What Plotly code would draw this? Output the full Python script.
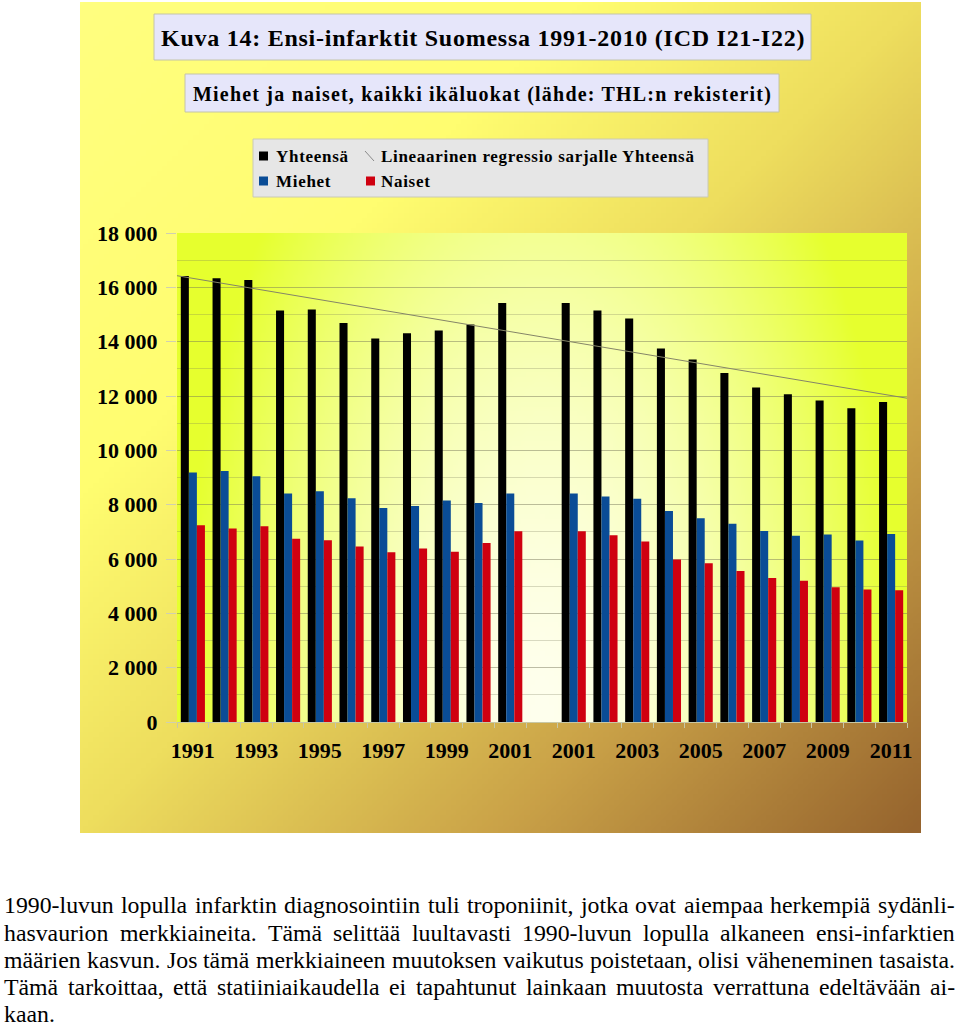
import zlib, struct, base64
import numpy as np
import plotly.graph_objects as go

# ---------------- data ----------------
categories = ["1991", "1992", "1993", "1994", "1995", "1996", "1997", "1998", "1999", "2000", "2001",
              "",
              "2001", "2002", "2003", "2004", "2005", "2006", "2007", "2008", "2009", "2010", "2011"]
yhteensa = [16420, 16330, 16270, 15150, 15180, 14690, 14120, 14310, 14410, 14630, 15420,
            None,
            15420, 15150, 14850, 13750, 13340, 12850, 12310, 12060, 11830, 11550, 11780]
miehet = [9180, 9240, 9050, 8410, 8490, 8240, 7880, 7950, 8150, 8060, 8410,
          None,
          8410, 8300, 8220, 7770, 7500, 7300, 7030, 6860, 6900, 6680, 6920]
naiset = [7240, 7120, 7210, 6750, 6690, 6460, 6250, 6390, 6270, 6590, 7020,
          None,
          7020, 6870, 6640, 5980, 5840, 5560, 5300, 5200, 4960, 4880, 4850]
y_ticks = [0, 2000, 4000, 6000, 8000, 10000, 12000, 14000, 16000, 18000]
y_ticktext = ["0", "2 000", "4 000", "6 000", "8 000", "10 000", "12 000", "14 000", "16 000", "18 000"]

title1 = "Kuva 14: Ensi-infarktit Suomessa 1991-2010 (ICD I21-I22)"
title2 = "Miehet ja naiset, kaikki ikäluokat (lähde: THL:n rekisterit)"
legend_names = ["Yhteensä", "Lineaarinen regressio sarjalle Yhteensä", "Miehet", "Naiset"]
paragraph_lines = [
    "1990-luvun lopulla infarktin diagnosointiin tuli troponiinit, jotka ovat aiempaa herkempiä sydänli-",
    "hasvaurion merkkiaineita. Tämä selittää luultavasti 1990-luvun lopulla alkaneen ensi-infarktien",
    "määrien kasvun. Jos tämä merkkiaineen muutoksen vaikutus poistetaan, olisi väheneminen tasaista.",
    "Tämä tarkoittaa, että statiiniaikaudella ei tapahtunut lainkaan muutosta verrattuna edeltävään ai-",
    "kaan.",
]

# ---------------- geometry helpers ----------------
W, H = 960, 1026
ML, MR, MT, MB = 177, 53, 233, 304
PW, PH = W - ML - MR, H - MT - MB


def px_x(px):
    return (px - ML) / PW


def px_y(py):
    return (H - MB - py) / PH


# ---------------- gradient images ----------------
def png_uri(w, h, fn):
    raw = bytearray()
    for j in range(h):
        raw.append(0)
        for i in range(w):
            r, g, b = fn(i / (w - 1), j / (h - 1))
            raw += bytes((int(max(0, min(255, r))), int(max(0, min(255, g))), int(max(0, min(255, b)))))

    def chunk(t, d):
        c = struct.pack('>I', len(d)) + t + d
        return c + struct.pack('>I', zlib.crc32(t + d) & 0xffffffff)

    png = (b'\x89PNG\r\n\x1a\n' + chunk(b'IHDR', struct.pack('>IIBBBBB', w, h, 8, 2, 0, 0, 0))
           + chunk(b'IDAT', zlib.compress(bytes(raw), 9)) + chunk(b'IEND', b''))
    return 'data:image/png;base64,' + base64.b64encode(png).decode()


def interp_stops(t, stops):
    for k in range(len(stops) - 1):
        t0, c0 = stops[k]
        t1, c1 = stops[k + 1]
        if t <= t1:
            f = (t - t0) / (t1 - t0) if t1 > t0 else 0
            return tuple(c0[m] + (c1[m] - c0[m]) * f for m in range(3))
    return stops[-1][1]


outer_stops = [(0.0, (255, 255, 128)), (0.3, (255, 253, 112)), (0.5, (238, 222, 94)),
               (0.75, (202, 162, 72)), (1.0, (150, 100, 46))]


def outer_fn(u, v):
    return interp_stops((u + v) / 2.0, outer_stops)


def plot_fn(u, v):
    d = min(1.0, ((u - 0.5) / 0.5) ** 2 + ((1 - v) / 1.6) ** 2) ** 0.5
    f = d ** 1.6
    c0 = (255, 255, 238)
    c1 = (230, 255, 46)
    return tuple(c0[m] + (c1[m] - c0[m]) * f for m in range(3))


outer_img = png_uri(160, 160, outer_fn)
plot_img = png_uri(160, 100, plot_fn)

# ---------------- traces ----------------
x_pos = list(range(len(categories)))
fig = go.Figure()
fig.add_trace(go.Bar(x=x_pos, y=yhteensa, name=legend_names[0], marker=dict(color="#000000", line=dict(width=0))))
fig.add_trace(go.Bar(x=x_pos, y=miehet, name=legend_names[2], marker=dict(color="#0a4c96", line=dict(width=0))))
fig.add_trace(go.Bar(x=x_pos, y=naiset, name=legend_names[3], marker=dict(color="#cf0010", line=dict(width=0))))

xs = [i for i, v in enumerate(yhteensa) if v is not None]
ys = [v for v in yhteensa if v is not None]
slope, icpt = np.polyfit(xs, ys, 1)
reg_x = [-0.5, len(categories) - 0.5]
reg_y = [icpt + slope * x for x in reg_x]
fig.add_trace(go.Scatter(x=reg_x, y=reg_y, mode="lines", name=legend_names[1],
                         line=dict(color="#858568", width=1), cliponaxis=False))

# ---------------- shapes / annotations ----------------
FONT = "Liberation Serif, Times New Roman, Tinos, DejaVu Serif, serif"
shapes = []
annotations = []

# title boxes
shapes.append(dict(type="rect", xref="paper", yref="paper", x0=px_x(154), x1=px_x(811), y0=px_y(60), y1=px_y(14),
                   fillcolor="#e6e6fa", line=dict(color="#c4c4a8", width=1), layer="above"))
annotations.append(dict(xref="paper", yref="paper", x=px_x(482.5), y=px_y(38), xanchor="center", yanchor="middle",
                        text='<span style="letter-spacing:0.74px">' + title1 + '</span>', showarrow=False,
                        font=dict(family=FONT, size=24, color="#000000", weight="bold"), borderpad=0))
shapes.append(dict(type="rect", xref="paper", yref="paper", x0=px_x(185), x1=px_x(779), y0=px_y(112), y1=px_y(74),
                   fillcolor="#e6e6fa", line=dict(color="#c4c4a8", width=1), layer="above"))
annotations.append(dict(xref="paper", yref="paper", x=px_x(482), y=px_y(94), xanchor="center", yanchor="middle",
                        text='<span style="letter-spacing:1.2px">' + title2 + '</span>', showarrow=False,
                        font=dict(family=FONT, size=20, color="#000000", weight="bold"), borderpad=0))

# legend box
shapes.append(dict(type="rect", xref="paper", yref="paper", x0=px_x(253), x1=px_x(708), y0=px_y(197), y1=px_y(139),
                   fillcolor="#e6e6e6", line=dict(color="#cacab4", width=1), layer="above"))
leg_rows = [156, 181]
leg_items = [
    (legend_names[0], "#000000", 259, 276, leg_rows[0], "sq"),
    (legend_names[1], "#8a8a8a", 365, 381, leg_rows[0], "ln"),
    (legend_names[2], "#0a4c96", 259, 276, leg_rows[1], "sq"),
    (legend_names[3], "#cf0010", 366, 381, leg_rows[1], "sq"),
]
for name, col, sx, tx, ry, kind in leg_items:
    if kind == "sq":
        shapes.append(dict(type="rect", xref="paper", yref="paper", x0=px_x(sx), x1=px_x(sx + 9),
                           y0=px_y(ry + 4.5), y1=px_y(ry - 4.5), fillcolor=col, line=dict(width=0), layer="above"))
    else:
        shapes.append(dict(type="line", xref="paper", yref="paper", x0=px_x(sx), x1=px_x(sx + 9),
                           y0=px_y(ry - 5), y1=px_y(ry + 5), line=dict(color=col, width=1), layer="above"))
    annotations.append(dict(xref="paper", yref="paper", x=px_x(tx), y=px_y(ry), xanchor="left", yanchor="middle",
                            text='<span style="letter-spacing:0.7px">' + name + '</span>', showarrow=False,
                            font=dict(family=FONT, size=17, color="#000000", weight="bold"),
                            borderpad=0, borderwidth=0))

# paragraph (justified, Times metrics)
TR = {'a': 444, 'b': 500, 'c': 444, 'd': 500, 'e': 444, 'f': 333, 'g': 500, 'h': 500, 'i': 278, 'j': 278,
      'k': 500, 'l': 278, 'm': 778, 'n': 500, 'o': 500, 'p': 500, 'q': 500, 'r': 333, 's': 389, 't': 278,
      'u': 500, 'v': 500, 'w': 722, 'x': 500, 'y': 500, 'z': 444, 'ä': 444, 'ö': 500, 'T': 611, 'J': 389,
      '-': 333, ',': 250, '.': 250, ' ': 250}
for dgt in "0123456789":
    TR[dgt] = 500
PFS = 23.8
LEFT, RIGHT = 4, 955
line_centers = [905, 932.5, 959.5, 987, 1014]
for li, line in enumerate(paragraph_lines):
    words = line.split()
    widths = [sum(TR.get(ch, 500) for ch in w) * PFS / 1000 for w in words]
    justify = li < len(paragraph_lines) - 1 and len(words) > 1
    if justify:
        gap = (RIGHT - LEFT - sum(widths)) / (len(words) - 1)
    else:
        gap = 250 * PFS / 1000
    x = LEFT
    for w, wd in zip(words, widths):
        annotations.append(dict(xref="paper", yref="paper", x=px_x(x), y=px_y(line_centers[li]),
                                xanchor="left", yanchor="middle", text=w, showarrow=False,
                                font=dict(family=FONT, size=PFS, color="#000000"), borderpad=0, borderwidth=0))
        x += wd + gap

images = [
    dict(source=outer_img, xref="paper", yref="paper", x=px_x(80), y=px_y(2), sizex=(921 - 80) / PW,
         sizey=(833 - 2) / PH, xanchor="left", yanchor="top", sizing="stretch", layer="below"),
    dict(source=plot_img, xref="paper", yref="paper", x=0, y=1, sizex=1, sizey=1,
         xanchor="left", yanchor="top", sizing="stretch", layer="below"),
]

grid_col = "rgba(120,120,90,0.28)"
fig.update_layout(
    width=W, height=H,
    margin=dict(l=ML, r=MR, t=MT, b=MB, pad=0),
    paper_bgcolor="#ffffff", plot_bgcolor="rgba(0,0,0,0)",
    barmode="group", bargap=0.24, bargroupgap=0,
    showlegend=False,
    font=dict(family=FONT, color="#000000"),
    shapes=shapes, annotations=annotations, images=images,
    xaxis=dict(range=[-0.5, len(categories) - 0.5], tickmode="array",
               tickvals=x_pos[::2], ticktext=categories[::2], ticks="", showgrid=False, zeroline=False,
               showline=True, linecolor="#c8c8a6", linewidth=1,
               tickfont=dict(family=FONT, size=22, color="#000000", weight="bold"), ticklabelstandoff=9,
               minor=dict(tickmode="array", tickvals=[i - 0.5 for i in range(len(categories) + 1)],
                          ticks="outside", ticklen=5, tickcolor="#c8c8a6", showgrid=False)),
    yaxis=dict(range=[0, 18000], tickmode="array", tickvals=y_ticks, ticktext=y_ticktext,
               ticks="outside", ticklen=10, tickcolor="#d0d0b0", showgrid=True, gridcolor=grid_col, gridwidth=1,
               zeroline=False, showline=False,
               tickfont=dict(family=FONT, size=22, color="#000000", weight="bold"), ticklabelstandoff=4,
               minor=dict(dtick=1000, tick0=0, showgrid=True, gridcolor=grid_col, gridwidth=1, ticks="")),
)

fig.write_html("out.html")
